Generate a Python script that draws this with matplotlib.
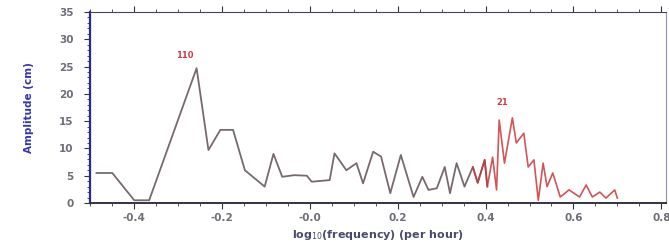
import matplotlib
matplotlib.use("Agg")
import matplotlib.pyplot as plt
from matplotlib.ticker import MultipleLocator

# spectrum: log10(frequency per hour) vs amplitude (cm)
log_freq = [-0.486, -0.45, -0.40, -0.366, -0.258, -0.231, -0.204, -0.175, -0.148,
            -0.103, -0.083, -0.063, -0.036, -0.007, 0.004, 0.045, 0.056, 0.083,
            0.106, 0.121, 0.144, 0.162, 0.183, 0.207, 0.236, 0.256, 0.270, 0.289,
            0.307, 0.319, 0.334, 0.352, 0.371, 0.382, 0.398, 0.404, 0.416, 0.425,
            0.431, 0.443, 0.461, 0.470, 0.487, 0.497, 0.510, 0.520, 0.531, 0.540,
            0.553, 0.570, 0.590, 0.614, 0.629, 0.643, 0.660, 0.674, 0.694, 0.700]
amplitude = [5.5, 5.5, 0.5, 0.5, 24.7, 9.7, 13.4, 13.4, 6.0,
             3.0, 9.0, 4.8, 5.1, 5.0, 3.9, 4.2, 9.1, 6.0,
             7.3, 3.6, 9.4, 8.5, 1.8, 8.8, 1.1, 4.8, 2.4, 2.7,
             6.6, 1.8, 7.3, 3.0, 6.6, 3.7, 7.9, 3.0, 8.4, 2.4,
             15.2, 7.3, 15.6, 11.0, 12.8, 6.6, 7.9, 0.5, 7.3, 3.0,
             5.5, 1.1, 2.4, 1.1, 3.3, 1.1, 2.0, 0.9, 2.4, 0.9]
RED_FROM = 0.38

peak_labels = ["110", "21"]
peak_x = [-0.285, 0.438]
peak_y = [27.0, 18.5]

AXIS_BLUE = "#2a2a8c"
TICK_GRAY = "#6e6e78"

fig = plt.figure(figsize=(6.69, 2.5), dpi=100)
ax = fig.add_axes([0.135, 0.188, 0.86, 0.764])

gray_x = [x for x in log_freq if x <= RED_FROM + 0.03]
gray_y = amplitude[:len(gray_x)]
i0 = next(i for i, x in enumerate(log_freq) if x >= RED_FROM) - 1
ax.plot(gray_x, gray_y, color="#776a6c", linewidth=1.3)
ax.plot(log_freq[i0:], amplitude[i0:], color="#c8383c", linewidth=1.2, alpha=0.85)

for lab, x, y in zip(peak_labels, peak_x, peak_y):
    ax.text(x, y, lab, color="#c84048", fontsize=6, fontweight="bold",
            ha="center", va="center")

ax.set_xlim(-0.5, 0.81)
ax.set_ylim(0, 35)
ax.xaxis.set_minor_locator(MultipleLocator(0.05))
ax.yaxis.set_major_locator(MultipleLocator(5))
ax.yaxis.set_minor_locator(MultipleLocator(1))
ax.set_xticks([-0.4, -0.2, 0.0, 0.2, 0.4, 0.6, 0.8])
ax.set_xticklabels(["-0.4", "-0.2", "-0.0", "0.2", "0.4", "0.6", "0.8"])

ax.tick_params(axis="both", which="major", labelsize=7.5, labelcolor=TICK_GRAY,
               direction="out", length=4, color="#333344", top=True)
ax.tick_params(axis="y", which="major", pad=8)
ax.tick_params(axis="both", which="minor", direction="out", length=2,
               color="#333344", top=True)
for t in ax.get_xticklabels() + ax.get_yticklabels():
    t.set_fontweight("bold")

ax.spines["left"].set_color(AXIS_BLUE)
ax.spines["left"].set_linewidth(1.6)
ax.spines["bottom"].set_color("#333344")
ax.spines["bottom"].set_linewidth(1.4)
ax.spines["top"].set_color("#444455")
ax.spines["right"].set_color("#9090b8")

ax.set_ylabel("Amplitude (cm)", color="#3535b0", fontsize=7.5,
              fontweight="bold", labelpad=18)
ax.set_xlabel("log$_{10}$(frequency) (per hour)", color="#4a4a70", fontsize=8,
              fontweight="bold", labelpad=3)

fig.savefig("out.png", dpi=100, facecolor="white")
